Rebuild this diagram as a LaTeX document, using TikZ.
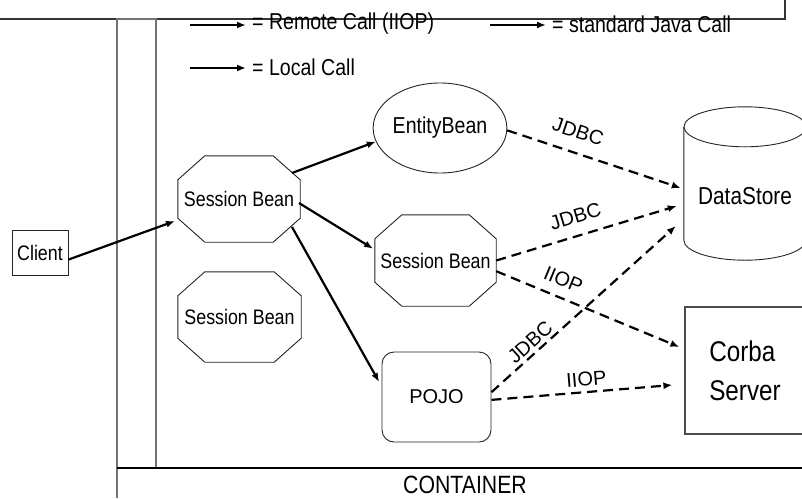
\documentclass[tikz,border=0pt]{standalone}
\usepackage{fontspec}
\setmainfont[FakeStretch=0.85]{Liberation Sans}
\newfontfamily\widefont{Liberation Sans}
\usetikzlibrary{arrows.meta,shapes.geometric}

\newcommand{\fsz}[1]{\fontsize{#1}{#1}\selectfont}
% octagon outline around a rectangular node (corner cuts 27pt x 24pt)
\newcommand{\octoutline}[1]{%
  \draw[thinbox] ([xshift=27pt]#1.north west) -- ([xshift=-27pt]#1.north east)
    -- ([yshift=-24pt]#1.north east) -- ([yshift=24pt]#1.south east)
    -- ([xshift=-27pt]#1.south east) -- ([xshift=27pt]#1.south west)
    -- ([yshift=24pt]#1.south west) -- ([yshift=-24pt]#1.north west) -- cycle;}

\begin{document}
\begin{tikzpicture}[x=1pt,y=-1pt,
  thinbox/.style={draw=black!85, line width=0.9pt},
  octa/.style={rectangle, inner sep=0pt, font=\fsz{21}},
  call/.style={line width=2.2pt, -{Latex[length=9pt,width=7pt]}},
  remote/.style={line width=2.2pt, dash pattern=on 10pt off 6pt,
    -{Latex[length=9pt,width=7pt]}},
  lab/.style={font=\widefont\fsz{20}, sloped, inner sep=2pt},
  legtext/.style={anchor=west, inner sep=0pt, font=\fsz{23}},
  frame/.style={draw=black!55, line width=1.2pt}
]
\useasboundingbox (0,0) rectangle (802,498);
\fill[white] (0,0) rectangle (802,498);

% outer frames: box above, container bar and container floor
\draw[black!80, line width=1.1pt] (0,19) -- (785,19) -- (785,0);
\draw[frame] (117,19) rectangle (156,468);
\draw[frame] (117,468) -- (117,498);
\draw[black, line width=1.1pt] (117,468) -- (802,468);
\node[font=\fsz{25}, inner sep=0pt] (cont) at (465,485) {CONTAINER};

% legend
\coordinate (l1a) at (190,25);  \coordinate (l1b) at (246,25);
\coordinate (l2a) at (490,25);  \coordinate (l2b) at (546,25);
\coordinate (l3a) at (190,68);  \coordinate (l3b) at (246,68);
\draw[call] (l1a) -- (l1b);
\draw[call] (l2a) -- (l2b);
\draw[call] (l3a) -- (l3b);
\node[legtext] (leg1) at (252,24) {= Remote Call (IIOP)};
\node[legtext] (leg2) at (552,24) {= standard Java Call};
\node[legtext] (leg3) at (252,67) {= Local Call};

% components
\node[thinbox, minimum width=56pt, minimum height=45pt, inner sep=0pt,
  font=\fsz{21}] (client) at (40,252.5) {Client};
\node[octa, minimum width=122pt, minimum height=86pt] (sb1) at (239,199) {Session Bean};
\node[octa, minimum width=123pt, minimum height=90pt] (sb2) at (239.5,317) {Session Bean};
\node[octa, minimum width=121pt, minimum height=91pt] (sb3) at (435.5,260.5) {Session Bean};
\octoutline{sb1}
\octoutline{sb2}
\octoutline{sb3}
\node[thinbox, ellipse, minimum width=114pt, minimum height=90pt, inner sep=0pt,
  font=\fsz{23}] (eb) at (440,128) {EntityBean};
\node[thinbox, rounded corners=12pt, minimum width=109pt, minimum height=90pt,
  inner sep=0pt, font=\widefont\fsz{20}] (pojo) at (436.5,397) {POJO};

% data store: a cylinder drawn inside its frame node
\node[minimum width=122pt, minimum height=153pt, inner sep=0pt] (ds) at (745,183.5) {};
\draw[thinbox] (ds.north) ++(0,20) ellipse [x radius=61, y radius=20];
\draw[thinbox] ([yshift=-20pt]ds.north west) -- ([yshift=20pt]ds.south west)
  arc[start angle=180, end angle=0, x radius=61, y radius=20]
  -- ([yshift=-20pt]ds.north east);
\node[font=\fsz{24.5}, inner sep=0pt] (dstext) at (745,196) {DataStore};

\node[draw=black!70, line width=1.2pt, minimum width=120pt, minimum height=127pt,
  inner sep=0pt, align=left, font=\fontsize{28.5}{39}\selectfont] (cs) at (745,370.5)
  {Corba\\Server};

% calls inside the container
\draw[call] (client.-14) -- ([xshift=-64pt,yshift=-22pt]sb1.center);
\draw[call] ([xshift=53pt,yshift=26pt]sb1.center) -- (eb.192);
\draw[call, shorten >=2pt] ([xshift=60pt,yshift=-4pt]sb1.center) -- (sb3.170);
\draw[call, shorten >=5pt] ([xshift=53pt,yshift=-28pt]sb1.center) -- (pojo.169);

% remote calls
\draw[remote] (eb.-2) -- ([xshift=-3pt,yshift=-4.5pt]ds.west)
  node[lab, pos=0.37, above=11pt] {JDBC};
\draw[remote] (sb3.east) -- ([xshift=-7pt,yshift=-22.5pt]ds.west)
  node[lab, pos=0.47, above=9.5pt] {JDBC};
\draw[remote] (sb3.-10.5) -- ([xshift=-5pt,yshift=23.5pt]cs.west)
  node[lab, pos=0.33, above=7.5pt] {IIOP};
\draw[remote] (pojo.5) -- ([xshift=-8pt,yshift=-42.5pt]ds.west)
  node[lab, pos=0.25, above=1pt] {JDBC};
\draw[remote] (pojo.-3) -- ([xshift=-12pt,yshift=-14.5pt]cs.west)
  node[lab, pos=0.53, above=2.5pt] {IIOP};
\end{tikzpicture}
\end{document}
